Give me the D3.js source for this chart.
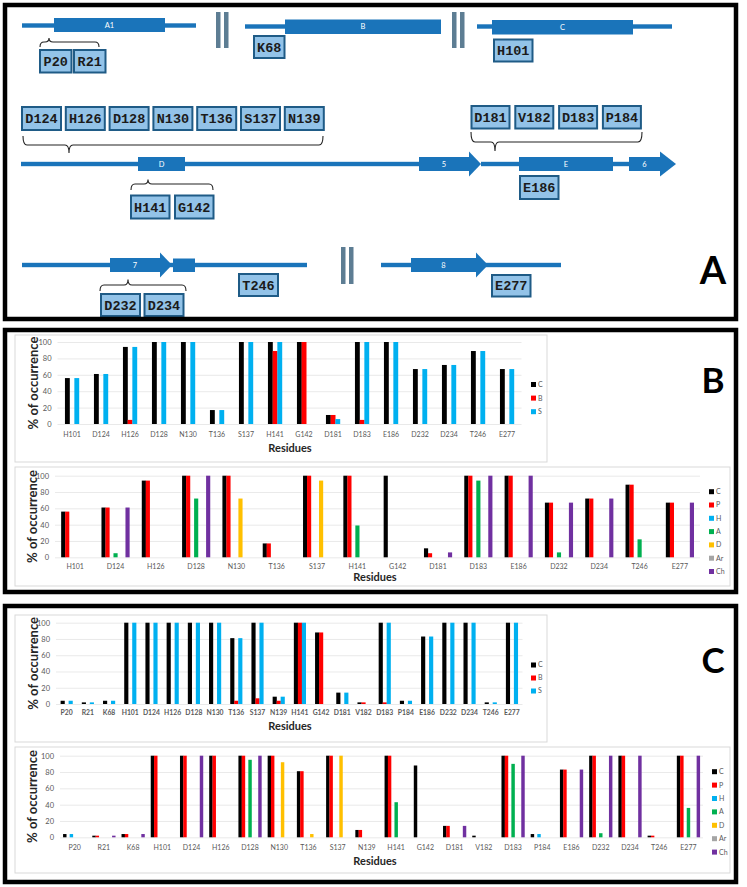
<!DOCTYPE html>
<html><head><meta charset="utf-8">
<script src="https://cdn.jsdelivr.net/npm/d3@7"></script>
<style>body{margin:0;background:#fff}svg{display:block}</style>
</head><body>
<svg id="fig" width="747" height="887"></svg>
<script>
// ---------------- DATA ----------------
const yTicks = [0, 20, 40, 60, 80, 100];

// Panel B
const residuesB = ["H101","D124","H126","D128","N130","T136","S137","H141","G142","D181","D183","E186","D232","D234","T246","E277"];
const seriesB1 = ["C","B","S"];
const b1C = [56,61,94,100,100,17,100,100,100,11,100,100,67,72,89,67];
const b1B = [0,0,5,0,0,0,0,89,100,11,5,0,0,0,0,0];
const b1S = [56,61,94,100,100,17,100,100,0,6,100,100,67,72,89,67];

const seriesAll = ["C","P","H","A","D","Ar","Ch"];
const b2C  = [56,61,94,100,100,17,100,100,100,11,100,100,67,72,89,67];
const b2P  = [56,61,94,100,100,17,100,100,0,5,100,100,67,72,89,67];
const b2H  = [0,0,0,0,0,0,0,0,0,0,0,0,0,0,0,0];
const b2A  = [0,5,0,72,0,0,0,39,0,0,94,0,6,0,22,0];
const b2D  = [0,0,0,0,72,0,94,0,0,0,0,0,0,0,0,0];
const b2Ar = [0,0,0,0,0,0,0,0,0,0,0,0,0,0,0,0];
const b2Ch = [0,61,0,100,0,0,0,0,0,6,100,100,67,72,0,67];

// Panel C
const residuesC = ["P20","R21","K68","H101","D124","H126","D128","N130","T136","S137","N139","H141","G142","D181","V182","D183","P184","E186","D232","D234","T246","E277"];
const c1C = [4,2,4,100,100,100,100,100,81,100,9,100,88,14,2,100,4,83,100,100,2,100];
const c1B = [0,0,0,0,0,0,0,0,4,7,4,100,88,0,2,2,0,0,0,0,0,0];
const c1S = [4,2,4,100,100,100,100,100,81,100,9,100,0,14,0,100,4,83,100,100,2,100];

const c2C  = [4,2,4,100,100,100,100,100,81,100,9,100,88,14,2,100,4,83,100,100,2,100];
const c2P  = [0,2,4,100,100,100,100,100,81,100,9,100,0,14,0,100,0,83,100,100,2,100];
const c2H  = [4,0,0,0,0,0,0,0,0,0,0,0,0,0,0,0,4,0,0,0,0,0];
const c2A  = [0,0,0,0,0,0,95,0,0,0,0,43,0,0,0,90,0,0,5,0,0,36];
const c2D  = [0,0,0,0,0,0,0,92,4,100,0,0,0,0,0,0,0,0,0,0,0,0];
const c2Ar = [0,0,0,0,0,0,0,0,0,0,0,0,0,0,0,0,0,0,0,0,0,0];
const c2Ch = [0,2,4,0,100,0,100,0,0,0,0,0,0,14,0,100,0,83,100,100,0,100];

// Panel A residue labels
const a1Res = ["P20","R21"], bRes = ["K68"], cRes = ["H101"];
const dTopRes = ["D124","H126","D128","N130","T136","S137","N139"];
const dBotRes = ["H141","G142"];
const eTopRes = ["D181","V182","D183","P184"];
const eBotRes = ["E186"];
const s7Res = ["D232","D234"], t246Res = ["T246"], e277Res = ["E277"];

const colors = {C:"#000000",P:"#ff0000",B:"#ff0000",H:"#00b0f0",S:"#00b0f0",A:"#00b050",D:"#ffc000",Ar:"#a5a5a5",Ch:"#7030a0"};

// ---------------- DRAW ----------------
const svg = d3.select("#fig");
svg.append("rect").attr("width",747).attr("height",887).attr("fill","#fff");

const F = "Lato, 'Open Sans', sans-serif";
const BLUE = "#1a74ba";

// ---- Panel A ----
const A = svg.append("g");
function hline(x1,x2,y){A.append("rect").attr("x",x1).attr("y",y-2.2).attr("width",x2-x1).attr("height",4.4).attr("fill",BLUE);}
function seg(x1,x2,y1,y2,label){
  A.append("rect").attr("x",x1).attr("y",y1).attr("width",x2-x1).attr("height",y2-y1).attr("fill",BLUE);
  if(label) A.append("text").attr("x",(x1+x2)/2).attr("y",(y1+y2)/2+2.5).attr("text-anchor","middle")
    .attr("font-family",F).attr("font-size",7.5).attr("fill","#fff").text(label);
}
function arrow(x1,x2,xt,yc,label){
  A.append("rect").attr("x",x1).attr("y",yc-7).attr("width",x2-x1+0.5).attr("height",14).attr("fill",BLUE);
  A.append("path").attr("d",`M${x2},${yc-12.5}L${xt},${yc}L${x2},${yc+12.5}Z`).attr("fill",BLUE);
  if(label) A.append("text").attr("x",(x1+x2)/2).attr("y",yc+2.5).attr("text-anchor","middle")
    .attr("font-family",F).attr("font-size",7.5).attr("fill","#fff").text(label);
}
function brk(x,y1,y2){
  [0,8].forEach(d=>A.append("rect").attr("x",x+d).attr("y",y1).attr("width",4.5).attr("height",y2-y1).attr("fill","#5d7d93"));
}
function boxes(labels,x,y,w,gap,h){
  labels.forEach((l,i)=>{
    const bx = x + i*(w+gap);
    A.append("rect").attr("x",bx+1).attr("y",y+1).attr("width",w-2).attr("height",h-2)
      .attr("fill","#93c3e8").attr("stroke","#1f5b86").attr("stroke-width",2);
    A.append("text").attr("x",bx+w/2).attr("y",y+h/2+4.5).attr("text-anchor","middle")
      .attr("font-family","'Liberation Mono', monospace").attr("font-weight",700).attr("font-size",13.5)
      .attr("fill","#1b1b1b").text(l);
  });
}
function brace(x1,x2,xa,yEnd,yMid,yApex){
  const r=4, s = Math.sign(yMid-yEnd)||1;
  const p = `M${x1},${yEnd}Q${x1},${yMid} ${x1+r},${yMid}L${xa-r},${yMid}Q${xa},${yMid} ${xa},${yApex}`+
            `Q${xa},${yMid} ${xa+r},${yMid}L${x2-r},${yMid}Q${x2},${yMid} ${x2},${yEnd}`;
  A.append("path").attr("d",p).attr("fill","none").attr("stroke","#222").attr("stroke-width",1.1);
}

// Row 1
hline(22,196,25.5); seg(54,165,18,32,"A1");
brk(216,12,48);
hline(245,441,26.5); seg(285,441,19.5,34,"B");
brk(452,12,48);
hline(477,672,26.5); seg(492,633,20,34.5,"C");
brace(40,99,49,47,42,38);
boxes(a1Res,39,49,33.5,0.5,24.5);
boxes(bRes,253,35,32.5,0,24);
boxes(cRes,493,38.5,40.5,0,24);

// Row 2
hline(21,470,164); seg(138,185,157,171,"D");
arrow(419,469,481,164,"5");
hline(481,520,164); seg(519,613,157,171,"E"); hline(612,630,164);
arrow(629,660,676,164,"6");
boxes(dTopRes,21,106,41,2.8,25);
brace(23,323,69,136,145,153);
boxes(eTopRes,470.5,105,40,3.8,24.5);
brace(471,642,495,132,142,151);
boxes(eBotRes,519,175,40.5,0,25);
brace(131,213,148,190,184,179.5);
boxes(dBotRes,130,194.5,40.5,3.5,25);

// Row 3
hline(22,307,265);
arrow(110,160,172,265,"7");
seg(173,195,258.5,272,"");
brace(100,186,128,291,285,279.5);
boxes(s7Res,100,293,41,2.5,24);
boxes(t246Res,238,273,41,0,24);
brk(341,247,284);
hline(381,561,265);
arrow(411,476,488,265,"8");
boxes(e277Res,491,274,40.5,0,23.5);
A.append("text").attr("x",713).attr("y",284).attr("text-anchor","middle")
  .attr("font-family",F).attr("font-weight",700).attr("font-size",38).attr("fill","#000").text("A");

// ---- Panel borders ----
[[5,5,731,314],[5,330,731,262],[5,606,731,276]].forEach(([x,y,w,h])=>{
  svg.append("rect").attr("x",x).attr("y",y).attr("width",w).attr("height",h)
    .attr("fill","none").attr("stroke","#000").attr("stroke-width",4.5);
});
svg.append("text").attr("x",713).attr("y",393).attr("text-anchor","middle")
  .attr("font-family",F).attr("font-weight",700).attr("font-size",35).text("B");
svg.append("text").attr("x",713).attr("y",673).attr("text-anchor","middle")
  .attr("font-family",F).attr("font-weight",700).attr("font-size",35).text("C");

// ---- Charts ----
function chart(o){
  const g = svg.append("g");
  g.append("rect").attr("x",o.box[0]).attr("y",o.box[1]).attr("width",o.box[2]-o.box[0]).attr("height",o.box[3]-o.box[1])
    .attr("fill","#fff").attr("stroke","#d9d9d9").attr("stroke-width",1);
  const y = d3.scaleLinear().domain([0,100]).range([o.y0,o.y100]);
  const x = d3.scaleBand().domain(o.cats).range(o.xr).paddingInner(0).paddingOuter(0);
  const step = x.bandwidth();
  const groupW = o.barW*o.series.length;
  const xs = d3.scaleBand().domain(o.series.map(s=>s.name)).range([(step-groupW)/2,(step+groupW)/2]);

  // grid + y ticks
  const ya = d3.axisLeft(y).tickValues(yTicks).tickSize(-(o.xr[1]-o.xr[0])).tickPadding(6);
  const ag = g.append("g").attr("transform",`translate(${o.xr[0]},0)`).call(ya);
  ag.select(".domain").remove();
  ag.selectAll("line").attr("stroke","#e3e3e3").attr("stroke-width",0.8);
  ag.selectAll("text").attr("font-family",F).attr("font-size",7.5).attr("fill","#595959");

  // bars
  o.series.forEach(s=>{
    g.append("g").selectAll("rect").data(s.values.map((v,i)=>({c:o.cats[i],v}))).join("rect")
      .attr("x",d=>x(d.c)+xs(s.name)).attr("width",xs.bandwidth()+0.15)
      .attr("y",d=>y(d.v)).attr("height",d=>y(0)-y(d.v)).attr("fill",colors[s.name]);
  });

  // x labels
  const xa = d3.axisBottom(x).tickSize(0).tickPadding(0);
  const bx = g.append("g").attr("transform",`translate(0,${o.labelY})`).call(xa);
  bx.select(".domain").remove();
  bx.selectAll("text").attr("font-family",F).attr("font-size",o.catFont).attr("font-weight",o.catWeight||400).attr("fill","#595959").attr("dy","0.35em");

  g.append("text").attr("x",o.resX).attr("y",o.resY).attr("text-anchor","middle")
    .attr("font-family",F).attr("font-weight",700).attr("font-size",11).attr("fill","#262626").text("Residues");
  g.append("text").attr("transform",`translate(${o.titleX},${(o.y0+o.y100)/2}) rotate(-90)`).attr("text-anchor","middle")
    .attr("dy","0.35em").attr("font-family",F).attr("font-weight",700).attr("font-size",13).attr("fill","#262626").text("% of occurrence");

  // legend
  o.series.forEach((s,i)=>{
    const ly = o.legY + i*o.legStep;
    g.append("rect").attr("x",o.legX).attr("y",ly-2.5).attr("width",5).attr("height",5).attr("fill",colors[s.name]);
    g.append("text").attr("x",o.legX+7).attr("y",ly).attr("dy","0.35em").attr("font-family",F).attr("font-size",7)
      .attr("fill","#595959").text(s.name);
  });
}

chart({box:[15,335,547,462], cats:residuesB, xr:[57.5,521.5], y0:424, y100:342, labelY:434.5, catFont:7,
  barW:4.7, series:[{name:"C",values:b1C},{name:"B",values:b1B},{name:"S",values:b1S}],
  resX:290, resY:452, titleX:33, legX:531, legY:384.5, legStep:13.6});
chart({box:[15,467,730,586], cats:residuesB, xr:[55,700], y0:557.3, y100:475.7, labelY:566.5, catFont:7,
  barW:4, series:[{name:"C",values:b2C},{name:"P",values:b2P},{name:"H",values:b2H},{name:"A",values:b2A},{name:"D",values:b2D},{name:"Ar",values:b2Ar},{name:"Ch",values:b2Ch}],
  resX:375, resY:581, titleX:32, legX:709, legY:491.7, legStep:13.3});
chart({box:[15,615,547,742], cats:residuesC, xr:[56,522.5], y0:704, y100:622.7, labelY:713, catFont:6.8, catWeight:700,
  barW:4, series:[{name:"C",values:c1C},{name:"B",values:c1B},{name:"S",values:c1S}],
  resX:290, resY:730, titleX:33, legX:531, legY:665, legStep:13});
chart({box:[15,747,730,873], cats:residuesC, xr:[60,703], y0:837.3, y100:755.7, labelY:847.3, catFont:7,
  barW:3.3, series:[{name:"C",values:c2C},{name:"P",values:c2P},{name:"H",values:c2H},{name:"A",values:c2A},{name:"D",values:c2D},{name:"Ar",values:c2Ar},{name:"Ch",values:c2Ch}],
  resX:375, resY:865, titleX:32, legX:712, legY:771.7, legStep:13.4});
</script>
</body></html>
